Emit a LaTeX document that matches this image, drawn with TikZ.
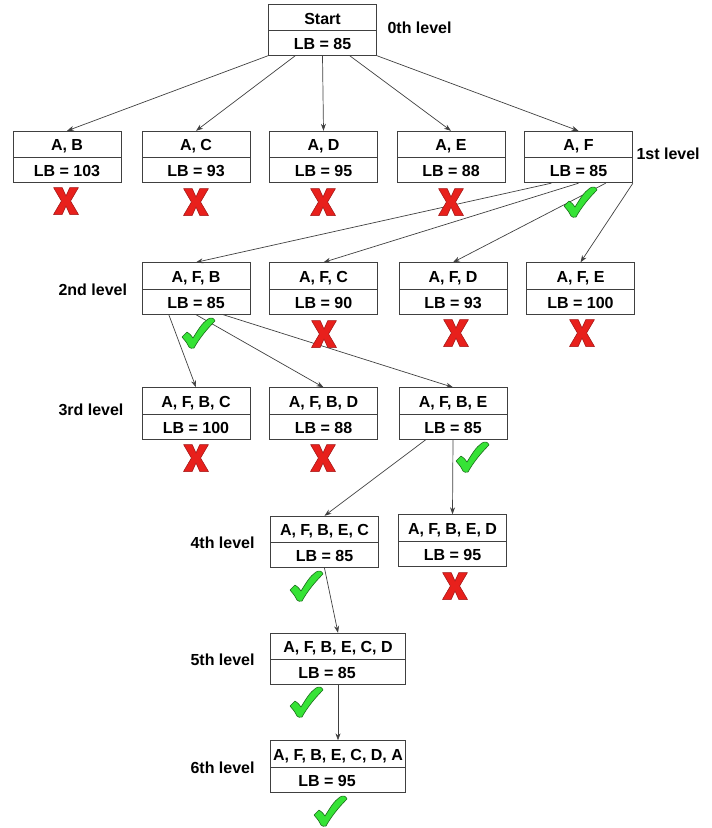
\documentclass[tikz,border=0pt]{standalone}
\usepackage{fontspec}
\setmainfont{Liberation Sans}
\usetikzlibrary{calc}
\usetikzlibrary{arrows.meta}
\usetikzlibrary{shapes.multipart}
\definecolor{boxgray}{HTML}{404040}
\definecolor{xred}{HTML}{E8201C}
\definecolor{xredline}{HTML}{9E1212}
\definecolor{okgreen}{HTML}{36E336}
\definecolor{okgreenline}{HTML}{1C6E1C}
\newcommand\lbstrut[0]{\rule[-1.5pt]{0pt}{16.5pt}}
\newcommand\lbfont[0]{\fontsize{16}{19}\selectfont\bfseries}

\tikzset{
  bnode/.style={rectangle split, rectangle split parts=2, draw=boxgray, fill=white,
    line width=0.8pt, minimum width=108pt, inner xsep=2pt, inner ysep=4pt, font=\lbfont},
  wnode/.style={bnode, minimum width=135pt},
  lvl/.style={anchor=west, font=\lbfont},
  link/.style={draw=boxgray, line width=0.7pt, -{Stealth[length=7pt,width=5pt]}},
  redx/.pic={
    \filldraw[fill=xred, draw=xredline, line width=0.5pt, line join=round]
      (-12.5,-13.5) -- (-3.8,-13.5) -- (0,-5) -- (3.8,-13.5) -- (12.5,-13.5) -- (4.6,0)
      -- (12.5,13.5) -- (3.8,13.5) -- (0,5) -- (-3.8,13.5) -- (-12.5,13.5) -- (-4.6,0) -- cycle;
  },
  greentick/.pic={
    \filldraw[fill=okgreen, draw=okgreenline, line width=0.6pt, line join=round]
      (-16,4) .. controls (-14,1) .. (-11,-1) .. controls (-8,1) .. (-5,5)
      .. controls (0,-3) and (4,-10) .. (10,-14)
      .. controls (13,-16) and (16,-15) .. (17,-12)
      .. controls (8,-3) and (1,6) .. (-4,15)
      .. controls (-6,16) and (-8,15) .. (-9,14)
      .. controls (-11,10) .. cycle;
  }
}

\begin{document}
\begin{tikzpicture}[x=1pt,y=-1pt]
\useasboundingbox (0,0) rectangle (712,828);
% tree
\node[bnode] (start) at (322.5,30) {\lbstrut Start\nodepart{two}\lbstrut LB = 85};

\node[bnode] (ab) at (67,157) {\lbstrut A, B\nodepart{two}\lbstrut LB = 103};
\node[bnode] (ac) at (196,157) {\lbstrut A, C\nodepart{two}\lbstrut LB = 93};
\node[bnode] (ad) at (323.5,157) {\lbstrut A, D\nodepart{two}\lbstrut LB = 95};
\node[bnode] (ae) at (451,157) {\lbstrut A, E\nodepart{two}\lbstrut LB = 88};
\node[bnode] (af) at (578.5,157) {\lbstrut A, F\nodepart{two}\lbstrut LB = 85};

\node[bnode] (afb) at (196,288.5) {\lbstrut A, F, B\nodepart{two}\lbstrut LB = 85};
\node[bnode] (afc) at (323.5,288.5) {\lbstrut A, F, C\nodepart{two}\lbstrut LB = 90};
\node[bnode] (afd) at (453,288.5) {\lbstrut A, F, D\nodepart{two}\lbstrut LB = 93};
\node[bnode] (afe) at (580.5,288.5) {\lbstrut A, F, E\nodepart{two}\lbstrut LB = 100};

\node[bnode] (afbc) at (196,413.5) {\lbstrut A, F, B, C\nodepart{two}\lbstrut LB = 100};
\node[bnode] (afbd) at (323.5,413.5) {\lbstrut A, F, B, D\nodepart{two}\lbstrut LB = 88};
\node[bnode] (afbe) at (453,413.5) {\lbstrut A, F, B, E\nodepart{two}\lbstrut LB = 85};

\node[bnode] (afbec) at (324.5,542) {\lbstrut A, F, B, E, C\nodepart{two}\lbstrut LB = 85};
\node[bnode] (afbed) at (452.5,540.5) {\lbstrut A, F, B, E, D\nodepart{two}\lbstrut LB = 95};

\node[wnode] (afbecd) at (338,659) {\lbstrut A, F, B, E, C, D\nodepart{two}\lbstrut LB = 85\hspace*{22pt}};
\node[wnode] (afbecda) at (338,766.5) {\lbstrut A, F, B, E, C, D, A\nodepart{two}\lbstrut LB = 95\hspace*{22pt}};

% level names
\node[lvl] (l0) at (384,28) {0th level};
\node[lvl] (l1) at (633,154) {1st level};
\node[lvl] (l2) at (55,290) {2nd level};
\node[lvl] (l3) at (55,410) {3rd level};
\node[lvl] (l4) at (187,543) {4th level};
\node[lvl] (l5) at (187,660) {5th level};
\node[lvl] (l6) at (187,768) {6th level};

% arrows
\foreach \f/\n in {0/ab,.25/ac,.5/ad,.75/ae,1/af}
  \draw[link] ($(start.south west)!\f!(start.south east)$) -- (\n.north);
\foreach \f/\n in {.25/afb,.5/afc,.75/afd,1/afe}
  \draw[link] ($(af.south west)!\f!(af.south east)$) -- (\n.north);
\foreach \f/\n in {.25/afbc,.5/afbd,.75/afbe}
  \draw[link] ($(afb.south west)!\f!(afb.south east)$) -- (\n.north);
\draw[link] ($(afbe.south west)!.25!(afbe.south east)$) -- (afbec.north);
\draw[link] (afbe.south) -- (afbed.north);
\draw[link] (afbec.south) -- (afbecd.north);
\draw[link] (afbecd.south) -- (afbecda.north);

% marks
\pic at (66,201) {redx};
\pic at (196,202) {redx};
\pic at (323,202) {redx};
\pic at (451,202) {redx};
\pic at (580,202) {greentick};

\pic at (198,333) {greentick};
\pic at (324,334) {redx};
\pic at (456,333) {redx};
\pic at (582,333) {redx};

\pic at (196,458) {redx};
\pic at (323,458) {redx};
\pic at (472,457) {greentick};

\pic at (306,586) {greentick};
\pic at (455,586) {redx};

\pic at (306,702) {greentick};
\pic at (330,811) {greentick};
\end{tikzpicture}
\end{document}
